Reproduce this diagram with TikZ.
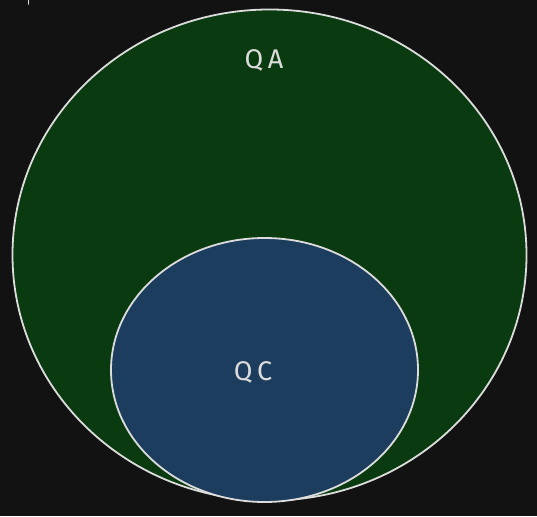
\documentclass[tikz,border=0pt]{standalone}
\usepackage{fontspec}
\setmainfont{Fira Sans}
\usetikzlibrary{shapes.geometric}
\definecolor{bg}{HTML}{121212}
\definecolor{greenfill}{HTML}{0A3A10}
\definecolor{bluefill}{HTML}{1C3D5E}
\definecolor{inkc}{HTML}{DCDCDC}
\begin{document}
\begin{tikzpicture}[x=1pt,y=-1pt,
  setshape/.style={draw=inkc, line width=1.8pt},
  lbl/.style={text=inkc, font=\fontsize{27}{30}\selectfont}]
\fill[bg] (0,0) rectangle (537,516);
\useasboundingbox (0,0) rectangle (537,516);
\node[setshape, fill=greenfill, ellipse, minimum width=514pt, minimum height=491pt, inner sep=0pt] (qa) at (269.5,255) {};
\node[setshape, fill=bluefill, ellipse, minimum width=307pt, minimum height=264pt, inner sep=0pt] (qc) at (264.5,370) {};
\node[lbl] (qalabel) at (264,60) {Q\,A};
\node[lbl] (qclabel) at (253,372) {Q\,C};
\coordinate (m1) at (28.5,0);
\coordinate (m2) at (28.5,4);
\draw[inkc, line width=1.8pt, line cap=round] (m1) -- (m2);
\end{tikzpicture}
\end{document}
